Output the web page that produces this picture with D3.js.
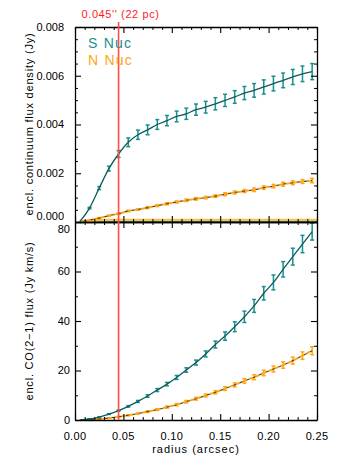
<!DOCTYPE html>
<html>
<head>
<meta charset="utf-8">
<script src="https://d3js.org/d3.v7.min.js"></script>
<style>
  * { margin: 0; padding: 0; }
  body { background: #fff; }
  svg text { font-family: "Liberation Sans", Arial, sans-serif; fill: #000; }
</style>
</head>
<body>
<div id="chart"></div>
<script>
// radii of the apertures (arcsec)
const radius = [0.005, 0.015, 0.025, 0.035, 0.045, 0.055, 0.065, 0.075, 0.085, 0.095,
                0.105, 0.115, 0.125, 0.135, 0.145, 0.155, 0.165, 0.175, 0.185, 0.195,
                0.205, 0.215, 0.225, 0.235, 0.245];

// enclosed continuum flux density (Jy)
const contS = [0.00002, 0.00057, 0.00139, 0.00219, 0.00279, 0.00327, 0.00358, 0.00378, 0.0040, 0.00416,
               0.00433, 0.00444, 0.00461, 0.00471, 0.00485, 0.00499, 0.00513, 0.00529, 0.0054, 0.00554,
               0.00568, 0.00581, 0.00595, 0.00608, 0.00617];
const contErrS = [0.00001, 0.00003, 0.00006, 0.0001, 0.00014, 0.00018, 0.00019, 0.0002, 0.0002, 0.00021,
                  0.00022, 0.00023, 0.00023, 0.00024, 0.00025, 0.00025, 0.00026, 0.00027, 0.00028, 0.00029,
                  0.0003, 0.0003, 0.00031, 0.00032, 0.00033];
const contN = [0, 0.00008, 0.00016, 0.00026, 0.00034, 0.00045, 0.00051, 0.00059, 0.00067, 0.00075,
               0.00082, 0.00089, 0.00095, 0.001, 0.00106, 0.00114, 0.00121, 0.00127, 0.00132, 0.00141,
               0.00147, 0.00155, 0.00161, 0.00166, 0.0017];
const contErrN = [0, 0.00001, 0.00002, 0.00002, 0.00003, 0.00003, 0.00003, 0.00004, 0.00004, 0.00004,
                  0.00004, 0.00005, 0.00005, 0.00005, 0.00005, 0.00006, 0.00006, 0.00006, 0.00007, 0.00007,
                  0.00007, 0.00008, 0.00008, 0.00008, 0.00009];

// flat traces along zero in the continuum panel
const floorRadius = [0.005, 0.015, 0.025, 0.035, 0.25];
const floorN = [0, 0.00005, 0.00008, 0.00009, 0.00009];
const floorS = [0, 0.00002, 0.00003, 0.00003, 0.00003];

// enclosed CO(2-1) flux (Jy km/s)
const coS = [0.05, 0.4, 1.2, 2.4, 3.8, 5.5, 7.5, 9.7, 12.1, 14.5,
             17.2, 20.2, 23.2, 26.7, 30.5, 33.9, 37.7, 41.7, 46.1, 51.2,
             55.6, 60.9, 66, 71.1, 76.1];
const coErrS = [0, 0.05, 0.1, 0.15, 0.2, 0.3, 0.4, 0.5, 0.6, 0.7,
                0.8, 0.9, 1.0, 1.2, 1.4, 1.7, 2.0, 2.3, 2.6, 2.7,
                3.0, 3.1, 3.4, 3.5, 3.4];
const coN = [0, 0.15, 0.4, 0.8, 1.3, 1.9, 2.6, 3.4, 4.2, 5.2,
             6.2, 7.4, 8.6, 9.9, 11.2, 12.7, 14.2, 15.8, 17.3, 19,
             20.6, 22.2, 24, 26, 28];
const coErrN = [0, 0, 0.05, 0.1, 0.15, 0.2, 0.25, 0.3, 0.35, 0.4,
                0.45, 0.5, 0.55, 0.6, 0.65, 0.75, 0.8, 0.9, 1.0, 1.1,
                1.2, 1.3, 1.4, 1.5, 1.6];

const xTicks = [0, 0.05, 0.1, 0.15, 0.2, 0.25];
const xMinor = [0.01, 0.02, 0.03, 0.04, 0.06, 0.07, 0.08, 0.09, 0.11, 0.12, 0.13, 0.14,
                0.16, 0.17, 0.18, 0.19, 0.21, 0.22, 0.23, 0.24];
const contTicks = [0, 0.002, 0.004, 0.006, 0.008];
const contMinor = [0.0005, 0.001, 0.0015, 0.0025, 0.003, 0.0035, 0.0045, 0.005, 0.0055, 0.0065, 0.007, 0.0075];
const coTicks = [0, 20, 40, 60, 80];
const coMinor = [10, 30, 50, 70];

const markRadius = 0.045;
const markLabel = "0.045'' (22 pc)";

const teal = "#1a8f8f", tealDark = "#0c5c5c";
const orange = "#ffa514", orangeDark = "#5e4210";

const width = 340, height = 468;
const svg = d3.select("#chart").append("svg")
    .attr("width", width).attr("height", height);

const x = d3.scaleLinear().domain([0, 0.25]).range([75, 317]);
const yTop = d3.scaleLinear().domain([0, 0.008]).range([222, 27]);
const yBot = d3.scaleLinear().domain([0, 80]).range([420, 222]);

// edgeShift nudges the labels at the shared panel edge apart
function frame(y, major, minor, fmt, labelRight, showX, edgeShift) {
    const g = svg.append("g");
    const y0 = y.range()[0], y1 = y.range()[1];
    const sides = [
        [() => d3.axisBottom(x), `translate(0,${y0})`, xTicks, xMinor],
        [() => d3.axisTop(x), `translate(0,${y1})`, xTicks, xMinor],
        [() => d3.axisLeft(y), `translate(${x.range()[0]},0)`, major, minor],
        [() => d3.axisRight(y), `translate(${x.range()[1]},0)`, major, minor]
    ];
    sides.forEach(([mk, tr, maj, min]) => {
        g.append("g").attr("transform", tr)
            .call(mk().tickValues(min).tickSizeInner(-3).tickSizeOuter(0).tickFormat(""))
            .call(s => s.select(".domain").remove())
            .selectAll(".tick line").attr("stroke", "#000").attr("stroke-width", 1);
        const a = g.append("g").attr("transform", tr)
            .call(mk().tickValues(maj).tickSizeInner(-6).tickSizeOuter(0).tickFormat(""));
        a.select(".domain").attr("stroke", "#000").attr("stroke-width", 1.3);
        a.selectAll(".tick line").attr("stroke", "#000").attr("stroke-width", 1.1);
    });
    g.selectAll(".ylab").data(major).join("text")
        .attr("x", labelRight)
        .attr("y", d => y(d) + (d === edgeShift[0] ? edgeShift[1] : 0))
        .attr("dy", "0.36em")
        .attr("text-anchor", "end")
        .style("font-size", "11px")
        .text(fmt);
    if (showX) {
        g.selectAll(".xlab").data(xTicks).join("text")
            .attr("x", d => x(d)).attr("y", 440)
            .attr("text-anchor", "middle")
            .style("font-size", "11px")
            .style("letter-spacing", "0.3px")
            .text(d3.format(".2f"));
    }
}

function series(y, vals, errs, kind) {
    const pts = radius.map((r, i) => [r, vals[i], errs[i]]);
    const line = d3.line().x(d => x(d[0])).y(d => y(d[1])).curve(d3.curveMonotoneX);
    const g = svg.append("g");
    const col = kind === "S" ? teal : orange;
    // error bars
    const eb = g.selectAll("g.eb").data(pts.slice(1)).join("g");
    eb.append("line")
        .attr("x1", d => x(d[0])).attr("x2", d => x(d[0]))
        .attr("y1", d => y(d[1] - d[2])).attr("y2", d => y(d[1] + d[2]))
        .attr("stroke", col).attr("stroke-width", 1.5);
    [-1, 1].forEach(s => {
        eb.append("line")
            .attr("x1", d => x(d[0]) - 2).attr("x2", d => x(d[0]) + 2)
            .attr("y1", d => y(d[1] + s * d[2])).attr("y2", d => y(d[1] + s * d[2]))
            .attr("stroke", col).attr("stroke-width", 1.5);
    });
    if (kind === "S") {
        g.append("path").attr("d", line(pts)).attr("fill", "none")
            .attr("stroke", tealDark).attr("stroke-width", 1.3);
    } else {
        g.append("path").attr("d", line(pts)).attr("fill", "none")
            .attr("stroke", orange).attr("stroke-width", 2)
            .attr("stroke-dasharray", "4,3");
        g.append("path").attr("d", line(pts)).attr("fill", "none")
            .attr("stroke", orangeDark).attr("stroke-width", 1.2)
            .attr("stroke-dasharray", "3,4").attr("stroke-dashoffset", -4);
    }
}

// zero-level traces in the top panel
const floorLine = d3.line().x(d => x(d[0])).y(d => yTop(d[1]));
svg.append("path").attr("d", floorLine(floorRadius.map((r, i) => [r, floorS[i]])))
    .attr("fill", "none").attr("stroke", "#2a9a9a").attr("stroke-width", 2.6);
svg.append("path").attr("d", floorLine(floorRadius.map((r, i) => [r, floorN[i]])))
    .attr("fill", "none").attr("stroke", "#ffbf4a").attr("stroke-width", 2.2);

series(yTop, contN, contErrN, "N");
series(yTop, contS, contErrS, "S");
series(yBot, coN, coErrN, "N");
series(yBot, coS, coErrS, "S");

frame(yTop, contTicks, contMinor, d3.format(".3f"), 64, false, [0, -6]);
frame(yBot, coTicks, coMinor, d3.format("d"), 70, true, [80, 7]);

// marker line
svg.append("line")
    .attr("x1", x(markRadius)).attr("x2", x(markRadius))
    .attr("y1", 22).attr("y2", yBot(0))
    .attr("stroke", "#ff4d4d").attr("stroke-width", 1.6);
svg.append("text")
    .attr("x", x(markRadius) + 2).attr("y", 18)
    .attr("text-anchor", "middle")
    .style("font-size", "11px").style("letter-spacing", "0.6px")
    .style("fill", "#ff1a1a")
    .text(markLabel);

// legend
svg.append("text").attr("x", 88).attr("y", 48)
    .style("font-size", "14px").style("letter-spacing", "1.2px").style("fill", teal)
    .text("S Nuc");
svg.append("text").attr("x", 88).attr("y", 65)
    .style("font-size", "14px").style("letter-spacing", "1.2px").style("fill", orange)
    .text("N Nuc");

// axis titles
svg.append("text")
    .attr("transform", "translate(33,124) rotate(-90)")
    .attr("text-anchor", "middle")
    .style("font-size", "11px").style("letter-spacing", "0.8px")
    .text("encl. continuum flux density (Jy)");
svg.append("text")
    .attr("transform", "translate(33,321) rotate(-90)")
    .attr("text-anchor", "middle")
    .style("font-size", "11px").style("letter-spacing", "0.8px")
    .text("encl. CO(2\u22121) flux (Jy km/s)");
svg.append("text")
    .attr("x", 196).attr("y", 453)
    .attr("text-anchor", "middle")
    .style("font-size", "11px").style("letter-spacing", "1px")
    .text("radius (arcsec)");
</script>
</body>
</html>
